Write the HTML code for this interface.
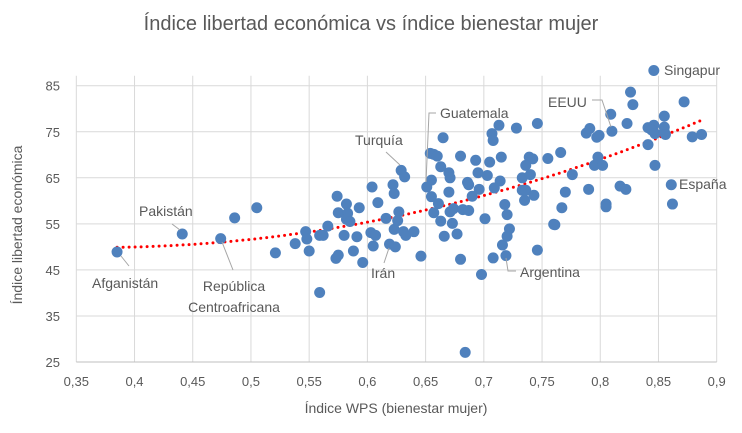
<!DOCTYPE html>
<html><head><meta charset="utf-8"><style>
body{margin:0;background:#fff}
svg{display:block;font-family:"Liberation Sans",sans-serif}
</style></head><body>
<svg id="chart" width="742" height="433" viewBox="0 0 742 433">
<rect width="742" height="433" fill="#fff"/>
<text x="371" y="30" text-anchor="middle" font-size="20" fill="#595959">Índice libertad económica vs índice bienestar mujer</text>
<g id="grid"></g>
<g id="ticks"></g>
<g id="trend"></g>
<g id="pts"></g>
<g id="ann" font-size="14" fill="#595959">
<text x="664" y="75">Singapur</text>
<text x="548" y="107">EEUU</text>
<polyline points="592,100 602,100 611,127" fill="none" stroke="#a6a6a6"/>
<text x="440" y="118">Guatemala</text>
<polyline points="436,113 429,113 426,182" fill="none" stroke="#a6a6a6"/>
<text x="355" y="145">Turquía</text>
<line x1="386" y1="152" x2="400" y2="165" stroke="#a6a6a6"/>
<text x="139" y="216">Pakistán</text>
<line x1="172" y1="224" x2="180" y2="230" stroke="#a6a6a6"/>
<text x="92" y="288">Afganistán</text>
<line x1="129" y1="266" x2="121" y2="256" stroke="#a6a6a6"/>
<text x="234" y="291" text-anchor="middle">República</text>
<text x="234" y="312" text-anchor="middle">Centroafricana</text>
<line x1="233" y1="270" x2="222" y2="242" stroke="#a6a6a6"/>
<text x="371" y="278">Irán</text>
<line x1="384" y1="263" x2="389" y2="248" stroke="#a6a6a6"/>
<text x="520" y="277">Argentina</text>
<polyline points="516,271 508,271 506,258" fill="none" stroke="#a6a6a6"/>
<text x="679" y="189">España</text>
</g>
<text x="396" y="413" text-anchor="middle" font-size="14" fill="#595959">Índice WPS (bienestar mujer)</text>
<text transform="translate(22,225) rotate(-90)" text-anchor="middle" font-size="14" fill="#595959">Índice libertad económica</text>
</svg>
<script>
const xTicks=[0.35,0.4,0.45,0.5,0.55,0.6,0.65,0.7,0.75,0.8,0.85,0.9];
const yTicks=[25,35,45,55,65,75,85];
const wps=[0.385,0.441,0.474,0.486,0.505,0.521,0.538,0.547,0.548,0.55,0.559,0.559,0.562,0.566,0.574,0.575,0.573,0.575,0.58,0.582,0.583,0.582,0.585,0.588,0.591,0.593,0.596,0.604,0.603,0.607,0.605,0.609,0.616,0.619,0.622,0.623,0.623,0.624,0.627,0.626,
0.846,0.826,0.828,0.872,0.809,0.855,0.823,0.81,0.788,0.791,0.799,0.797,0.841,0.846,0.844,0.847,0.855,0.855,0.856,0.841,0.879,0.887,0.847,0.861,0.862,0.798,0.795,0.802,0.79,0.817,0.822,0.805,0.805,0.766,0.755,0.776,0.77,0.767,0.76,0.761,0.746,0.746,0.728,0.713,0.707,0.708,0.739,0.742,0.736,0.733,0.74,0.733,0.736,0.735,0.743,0.715,0.705,0.693,0.695,0.703,0.714,0.709,0.696,0.69,0.686,0.687,0.68,0.718,0.72,0.722,0.72,0.716,0.719,0.708,0.701,0.698,0.684,0.68,0.677,0.673,0.663,0.666,0.646,0.67,0.671,0.67,0.671,0.674,0.682,0.687,0.663,0.665,0.654,0.657,0.66,0.655,0.651,0.655,0.661,0.657,0.629,0.632,0.631,0.633,0.64];
const libertad=[48.9,52.8,51.8,56.3,58.5,48.7,50.7,53.3,51.7,49.1,40.1,52.5,52.5,54.5,61.0,57.4,47.5,48.2,52.5,59.3,57.3,56,55.5,49.1,52.2,58.5,46.6,63.0,53.1,52.5,50.2,59.6,56.2,50.6,63.5,61.6,53.8,50.0,57.6,55.7,
88.3,83.6,80.9,81.5,78.8,78.4,76.8,75.1,74.7,75.7,74.2,73.8,75.9,76.4,75.4,74.6,76,75,74.4,72.2,73.9,74.4,67.7,63.5,59.3,69.5,67.7,67.7,62.5,63.2,62.5,59.3,58.7,70.5,69.2,65.7,61.9,58.5,54.9,54.8,76.8,49.3,75.8,76.4,74.6,73.1,69.5,69.1,67.7,65,65.7,62.3,62.3,60.1,61.2,69.5,68.4,68.8,66.1,65.5,64.3,62.8,62.5,61.0,64,63.5,69.7,59.2,57,53.9,52.3,50.4,48.1,47.6,56.1,44,27.1,47.3,52.8,55.1,55.6,52.3,48.0,66.1,65,61.9,57.6,58.3,58.1,57.9,67.4,73.7,70.3,70.1,69.7,64.5,63.0,60.9,59.4,57.4,66.6,65.2,53.3,52.5,53.3];
const X0=76.3,X1=716.7,Y0=362,Y1=85.7;
const xs=v=>X0+(v-0.35)/(0.9-0.35)*(X1-X0);
const ys=v=>Y0-(v-25)/(85-25)*(Y0-Y1);
const NS="http://www.w3.org/2000/svg";
function mk(tag,attrs,parent,txt){const e=document.createElementNS(NS,tag);for(const k in attrs)e.setAttribute(k,attrs[k]);if(txt!==undefined)e.textContent=txt;parent.appendChild(e);return e;}
const grid=document.getElementById('grid'),ticks=document.getElementById('ticks');
xTicks.forEach(t=>{const l=mk('line',{x1:xs(t),x2:xs(t),y1:Y1-10,y2:Y0,stroke:'#d9d9d9'},grid);


const tx=mk('text',{x:xs(t),y:386,'text-anchor':'middle','font-size':13,fill:'#595959'},ticks,String(t).replace('.',','));

});
yTicks.forEach(t=>{const l=mk('line',{x1:X0,x2:X1,y1:ys(t),y2:ys(t),stroke:t===25?'#bfbfbf':'#d9d9d9'},grid);


const tx=mk('text',{x:60,y:ys(t)+5,'text-anchor':'end','font-size':13,fill:'#595959'},ticks,String(t));

});
// quadratic least-squares trendline
(function(){let S=[0,0,0,0,0],T=[0,0,0];const n=wps.length;
for(let i=0;i<n;i++){const x=wps[i],y=libertad[i];for(let k=0;k<5;k++)S[k]+=Math.pow(x,k);for(let k=0;k<3;k++)T[k]+=y*Math.pow(x,k);}
const A=[[S[0],S[1],S[2],T[0]],[S[1],S[2],S[3],T[1]],[S[2],S[3],S[4],T[2]]];
for(let i=0;i<3;i++){for(let j=i+1;j<3;j++){const f=A[j][i]/A[i][i];for(let k=i;k<4;k++)A[j][k]-=f*A[i][k];}}
const c=[0,0,0];for(let i=2;i>=0;i--){let s=A[i][3];for(let k=i+1;k<3;k++)s-=A[i][k]*c[k];c[i]=s/A[i][i];}
const mn=Math.min(...wps),mx=Math.max(...wps);let pts=[];
for(let k=0;k<=60;k++){const x=mn+(mx-mn)*k/60;pts.push(xs(x).toFixed(1)+','+ys(c[0]+c[1]*x+c[2]*x*x).toFixed(1));}
const p=mk('polyline',{points:pts.join(' '),fill:'none',stroke:'#ff0000','stroke-width':3,'stroke-dasharray':'0 6','stroke-linecap':'round'},document.getElementById('trend'));

})();
const g=document.getElementById('pts');
wps.forEach((x,i)=>{const c=mk('circle',{cx:xs(x),cy:ys(libertad[i]),r:5.5,fill:'#4f81bd'},g);

});
</script>
</body></html>
